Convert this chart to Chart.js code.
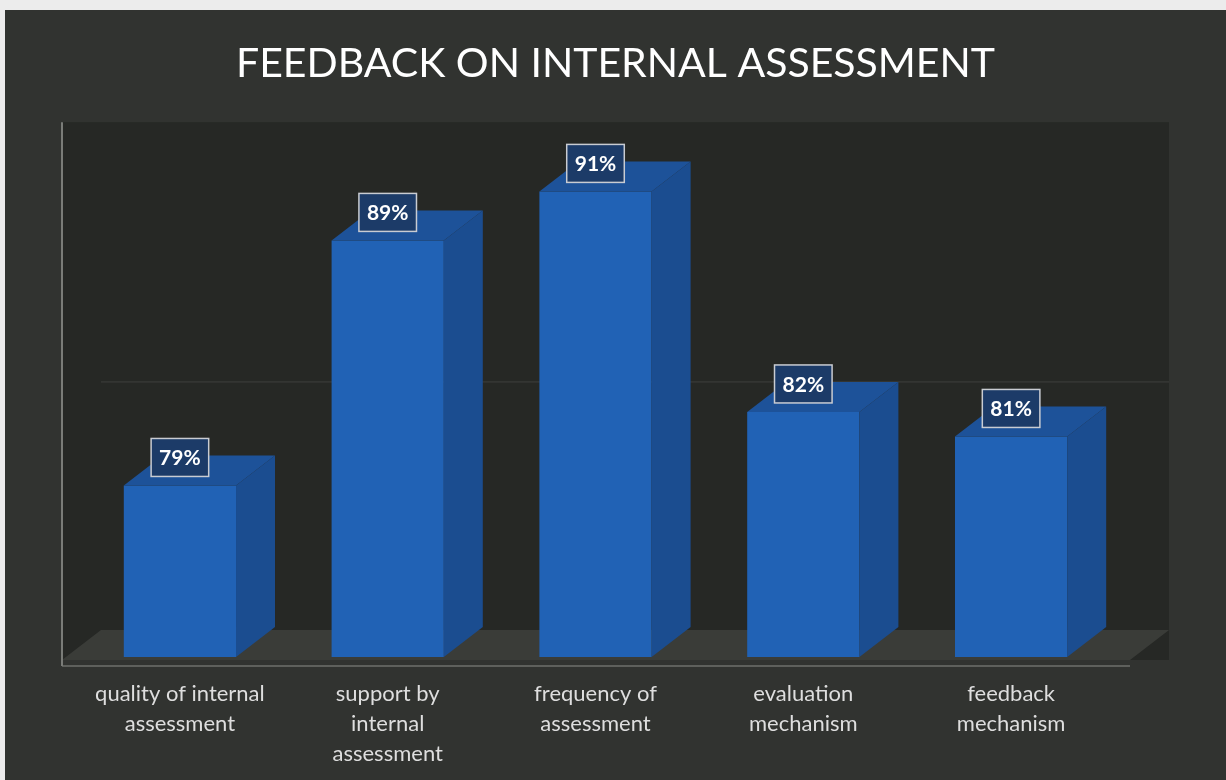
<!DOCTYPE html>
<html>
<head>
<meta charset="utf-8">
<script src="https://cdn.jsdelivr.net/npm/chart.js@4/dist/chart.umd.min.js"></script>
<style>
  body { margin: 0; background: #ececec; }
  #wrap { position: absolute; left: 5px; top: 10px; width: 1221px; height: 770px; background: #313330; }
</style>
</head>
<body>
<div id="wrap"><canvas id="chart" width="1221" height="770"></canvas></div>
<script>
const categories = [
  ['quality of internal', 'assessment'],
  ['support by', 'internal', 'assessment'],
  ['frequency of', 'assessment'],
  ['evaluation', 'mechanism'],
  ['feedback', 'mechanism']
]
const values = [79, 89, 91, 82, 81]
const valueLabels = ['79%', '89%', '91%', '82%', '81%']
const gridValues = [82]

// depth of the fake 3d
const DX = 39, DY = 30

const fake3d = {
  id: 'fake3d',
  beforeDatasetsDraw(chart) {
    const ctx = chart.ctx
    const a = chart.chartArea
    const y = chart.scales.y
    const l = a.left - 14, r = a.right + 15, b = a.bottom + 3
    ctx.save()
    // back wall + side
    ctx.fillStyle = '#262825'
    ctx.fillRect(l, a.top - DY, r + DX - l, b - a.top + DY)
    // gridlines on the back wall
    ctx.strokeStyle = 'rgba(120,120,120,0.3)'
    ctx.lineWidth = 1
    gridValues.forEach(v => {
      const py = y.getPixelForValue(v) - DY
      ctx.beginPath()
      ctx.moveTo(l + DX, py)
      ctx.lineTo(r + DX, py)
      ctx.stroke()
    })
    // floor
    ctx.fillStyle = '#3a3c38'
    ctx.beginPath()
    ctx.moveTo(l, b)
    ctx.lineTo(r, b)
    ctx.lineTo(r + DX, b - DY)
    ctx.lineTo(l + DX, b - DY)
    ctx.closePath()
    ctx.fill()
    // floor front edge + axis line
    ctx.strokeStyle = '#5e605c'
    ctx.lineWidth = 2
    ctx.beginPath()
    ctx.moveTo(l, b + 6)
    ctx.lineTo(r, b + 6)
    ctx.stroke()
    ctx.strokeStyle = '#7a7c78'
    ctx.beginPath()
    ctx.moveTo(l, a.top - DY)
    ctx.lineTo(l, b + 6)
    ctx.stroke()
    ctx.restore()
  },
  afterDatasetsDraw(chart) {
    const ctx = chart.ctx
    const meta = chart.getDatasetMeta(0)
    const bottom = chart.chartArea.bottom
    ctx.save()
    meta.data.forEach((bar, i) => {
      const p = bar.getProps(['x', 'y', 'base', 'width'], true)
      const base = Math.min(p.base, bottom)
      const x0 = p.x - p.width / 2, x1 = p.x + p.width / 2
      // right face
      ctx.fillStyle = '#1b4d90'
      ctx.beginPath()
      ctx.moveTo(x1, p.y)
      ctx.lineTo(x1 + DX, p.y - DY)
      ctx.lineTo(x1 + DX, base - DY)
      ctx.lineTo(x1, base)
      ctx.closePath()
      ctx.fill()
      // top face
      ctx.fillStyle = '#1d5299'
      ctx.beginPath()
      ctx.moveTo(x0, p.y)
      ctx.lineTo(x0 + DX, p.y - DY)
      ctx.lineTo(x1 + DX, p.y - DY)
      ctx.lineTo(x1, p.y)
      ctx.closePath()
      ctx.fill()
      // value label box
      const cy = p.y - 28
      ctx.font = 'bold 21px Lato'
      const w = ctx.measureText(valueLabels[i]).width + 16
      ctx.fillStyle = '#1c3b68'
      ctx.fillRect(p.x - w / 2, cy - 19, w, 38)
      ctx.strokeStyle = '#c9ccd2'
      ctx.lineWidth = 1.5
      ctx.strokeRect(p.x - w / 2, cy - 19, w, 38)
      ctx.fillStyle = '#ffffff'
      ctx.textAlign = 'center'
      ctx.textBaseline = 'middle'
      ctx.fillText(valueLabels[i], p.x, cy + 1)
    })
    ctx.restore()
  }
}

const canvas = document.getElementById('chart')
new Chart(canvas, {
  type: 'bar',
  data: {
    labels: categories,
    datasets: [{
      data: values,
      backgroundColor: '#2162b5',
      borderWidth: 0,
      barPercentage: 0.6,
      categoryPercentage: 0.9
    }]
  },
  options: {
    responsive: false,
    animation: false,
    layout: { padding: { left: 0, right: 0, top: 0, bottom: 10 } },
    plugins: {
      legend: { display: false },
      tooltip: { enabled: false },
      title: {
        display: true,
        text: 'FEEDBACK ON INTERNAL ASSESSMENT',
        color: '#ffffff',
        font: { family: 'Lato', size: 41, weight: 'normal' },
        padding: { top: 29, bottom: 64 }
      }
    },
    scales: {
      x: {
        grid: { display: false, drawTicks: false },
        border: { display: false },
        ticks: {
          color: '#dedede',
          font: { family: 'Lato', size: 22, lineHeight: 1.364 },
          padding: 22,
          maxRotation: 0,
          autoSkip: false
        },
        afterFit(s) { s.height = 113 }
      },
      y: {
        min: 72,
        max: 92.6,
        grid: { display: false },
        border: { display: false },
        ticks: { display: false },
        afterFit(s) { s.width = 71 }
      },
      // empty right-hand axis, only keeps the room on the right
      yRight: {
        position: 'right',
        grid: { display: false },
        border: { display: false },
        ticks: { display: false },
        afterFit(s) { s.width = 111 }
      }
    }
  },
  plugins: [fake3d]
})
</script>
</body>
</html>
